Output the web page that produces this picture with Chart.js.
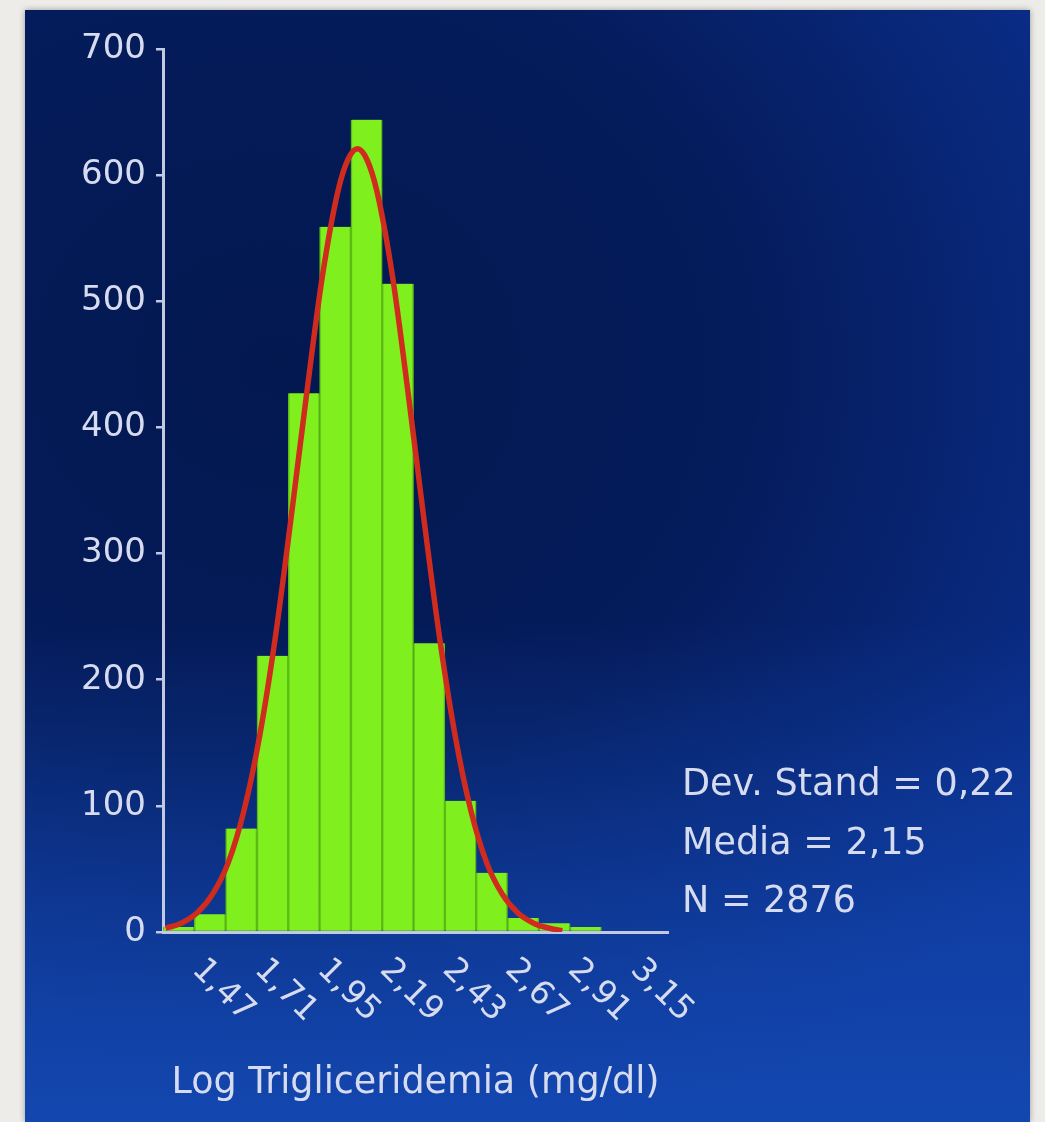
<!DOCTYPE html>
<html>
<head>
<meta charset="utf-8">
<script src="https://cdn.jsdelivr.net/npm/chart.js@4.4.1/dist/chart.umd.min.js"></script>
<style>
  html, body { margin: 0; padding: 0; }
  body { width: 1045px; height: 1122px; background: #eeece8; position: relative; overflow: hidden; }
  #panel {
    position: absolute; left: 25px; top: 10px; width: 1005px; height: 1112px;
    background:
      linear-gradient(to bottom, rgba(20,74,180,0) 55%, rgba(20,74,180,0.9) 100%),
      radial-gradient(ellipse 95% 75% at 25% 32%, #03184f 0%, #051c5c 50%, #0b3090 100%);
    box-shadow: 0 0 6px rgba(0,0,0,0.35);
  }
  #mixed-chart { position: absolute; left: 0; top: 0; }
</style>
</head>
<body>
<div id="panel"></div>
<canvas id="mixed-chart" width="1045" height="1122"></canvas>
<script>
// histogram bins (centre of each 0.12 wide class)
var binCenters = [1.47, 1.59, 1.71, 1.83, 1.95, 2.07, 2.19, 2.31, 2.43, 2.55, 2.67, 2.79, 2.91, 3.03, 3.15, 3.27];
var binCounts  = [4, 14, 82, 219, 427, 559, 644, 514, 229, 104, 47, 11, 7, 4, 0, 0];

// red normal curve
var curveX = [1.42, 1.48, 1.54, 1.60, 1.66, 1.72, 1.78, 1.84, 1.90, 1.96, 2.02, 2.08, 2.12, 2.155,
              2.19, 2.23, 2.29, 2.35, 2.41, 2.47, 2.53, 2.59, 2.65, 2.71, 2.77, 2.83, 2.89, 2.94];
var curveY = [3, 7, 15, 30, 55, 96, 155, 233, 327, 426, 519, 587, 613, 621,
              613, 587, 519, 426, 327, 233, 155, 96, 55, 30, 15, 7, 3, 1];

var tickValues = [1.47, 1.71, 1.95, 2.19, 2.43, 2.67, 2.91, 3.15];
var tickLabels = ["1,47", "1,71", "1,95", "2,19", "2,43", "2,67", "2,91", "3,15"];

var statLines = ["Dev. Stand = 0,22", "Media = 2,15", "N = 2876"];
var axisTitle = "Log Trigliceridemia (mg/dl)";

var textColor = "#d6dbef";
var axisColor = "#c3c9e2";

Chart.defaults.font.family = '"DejaVu Sans", Verdana, sans-serif';

// rotated x labels (going down to the right) and the stats box
var extraText = {
  id: "extraText",
  afterDraw: function(chart) {
    var ctx = chart.ctx;
    var xs = chart.scales.x, ys = chart.scales.y;
    ctx.save();
    ctx.fillStyle = textColor;
    ctx.font = '33px "DejaVu Sans"';
    ctx.textAlign = "left";
    ctx.textBaseline = "top";
    tickValues.forEach(function(v, i) {
      ctx.save();
      ctx.translate(xs.getPixelForValue(v) + 30, ys.bottom + 21);
      ctx.rotate(Math.PI / 4);
      ctx.fillText(tickLabels[i], 0, 0);
      ctx.restore();
    });
    ctx.font = '36.5px "DejaVu Sans"';
    ctx.textBaseline = "alphabetic";
    statLines.forEach(function(s, i) {
      ctx.fillText(s, 682, 795 + i * 58.5);
    });
    ctx.restore();
  }
};

new Chart(document.getElementById("mixed-chart"), {
  type: "bar",
  data: {
    datasets: [{
        type: "line",
        label: "Normale",
        order: 0,
        data: curveX.map(function(x, i) { return { x: x, y: curveY[i] }; }),
        borderColor: "#cf2b1f",
        borderWidth: 5.5,
        pointRadius: 0,
        cubicInterpolationMode: "monotone",
        fill: false
      }, {
        type: "bar",
        label: "Frequenza",
        order: 1,
        data: binCenters.map(function(x, i) { return { x: x, y: binCounts[i] }; }),
        backgroundColor: "#7ff01e",
        borderColor: "#5cbb16",
        borderWidth: { left: 1.5, right: 1.5, top: 0, bottom: 0 },
        barPercentage: 1,
        categoryPercentage: 1
      }
    ]
  },
  options: {
    responsive: false,
    animation: false,
    layout: { padding: { left: 0, top: 49, right: 377, bottom: 0 } },
    plugins: {
      legend: { display: false },
      tooltip: { enabled: false }
    },
    scales: {
      x: {
        type: "linear",
        offset: false,
        min: 1.41,
        max: 3.345,
        grid: { display: true, drawOnChartArea: false, drawTicks: false },
        border: { display: true, color: axisColor, width: 3 },
        ticks: { display: false },
        title: {
          display: true,
          text: axisTitle,
          color: textColor,
          font: { size: 36.5 },
          padding: { top: 0, bottom: 17 }
        },
        afterFit: function(scale) { scale.height = 190; }
      },
      y: {
        min: 0,
        max: 700,
        ticks: { stepSize: 100, color: textColor, font: { size: 34 }, padding: 10 },
        grid: { drawOnChartArea: false, drawTicks: true, tickLength: 7, color: axisColor, lineWidth: 2.5 },
        border: { display: true, color: axisColor, width: 3 },
        afterFit: function(scale) { scale.width = 163; }
      }
    }
  },
  plugins: [extraText]
});
</script>
</body>
</html>
